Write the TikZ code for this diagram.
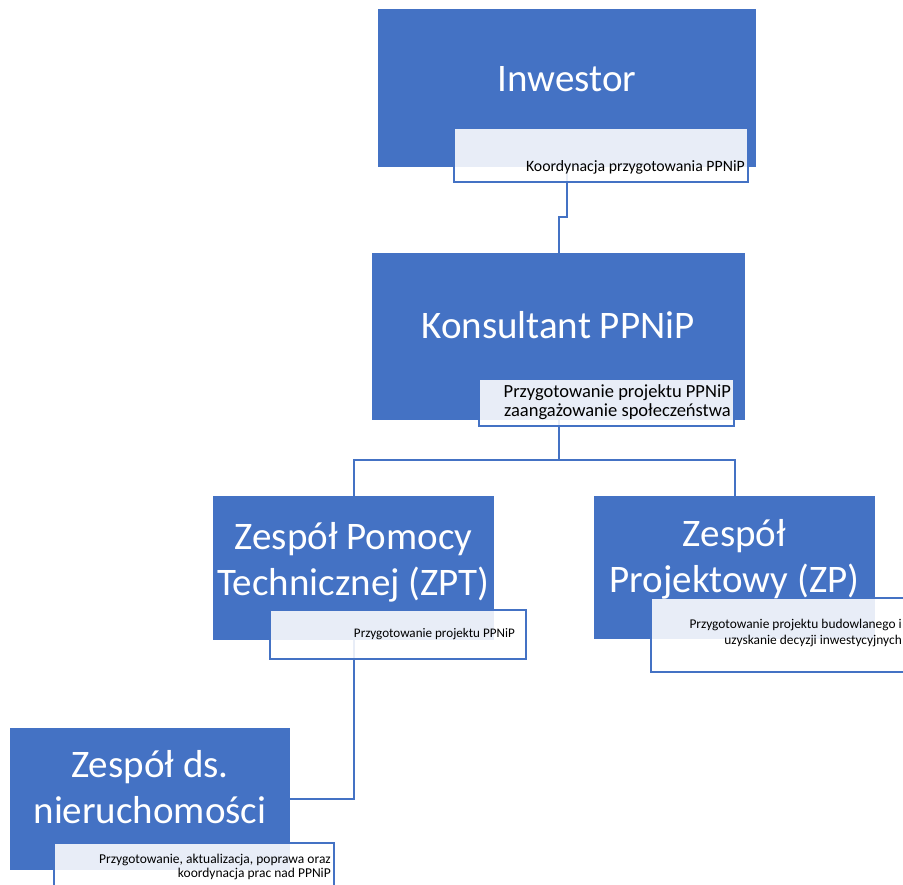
\documentclass[tikz,border=0pt]{standalone}
\usepackage{fontspec}
\setmainfont{Carlito}
\definecolor{accent}{HTML}{4472C4}
\begin{document}
\begin{tikzpicture}[x=1pt,y=-1pt,
  bluebox/.style={fill=accent, draw=none, inner sep=0pt, anchor=north west},
  descbox/.style={fill=white, fill opacity=0.88, draw=accent, line width=2pt, inner sep=0pt, anchor=north west},
  title/.style={text=white, font=\fontsize{39}{46}\selectfont, align=center, anchor=base, inner sep=0pt},
  desc/.style={text=black, align=right, anchor=base east, inner sep=0pt},
  conn/.style={draw=accent, line width=2.2pt}]
\useasboundingbox (0,0) rectangle (903,885);
\clip (0,0) rectangle (903,885);
\fill[white] (0,0) rectangle (903,885);
% blue boxes
\node[bluebox, minimum width=378pt, minimum height=158pt] (inw) at (378,9) {};
\node[bluebox, minimum width=373pt, minimum height=167pt] (kons) at (372,253) {};
\node[bluebox, minimum width=281pt, minimum height=144pt] (zpt) at (213,496) {};
\node[bluebox, minimum width=281pt, minimum height=143pt] (zp) at (594,496) {};
\node[bluebox, minimum width=280pt, minimum height=142pt] (nier) at (10,728) {};
% connectors
\coordinate (bend1) at (563,217);
\coordinate (bus) at (558,460);
\draw[conn] (inw.south) |- (bend1) -| (kons.north);
\draw[conn] (kons.south) -- (kons.south |- bus);
\draw[conn] (zpt.north) |- (bus) -| (zp.north);
\draw[conn] (zpt.south) |- (nier.east);
% description boxes
\node[descbox, minimum width=294pt, minimum height=54pt] (inwd) at (453,127) {};
\node[descbox, minimum width=255pt, minimum height=47pt] (konsd) at (478,378) {};
\node[descbox, minimum width=256pt, minimum height=49pt] (zptd) at (269,609) {};
\node[descbox, minimum width=262pt, minimum height=74pt] (zpd) at (650,597) {};
\node[descbox, minimum width=280pt, minimum height=60pt] (nierd) at (53,842) {};
% titles (anchor = baseline of last line)
\node[title] (inwt) at (567,92) {Inwestor};
\node[title] (konst) at (558,339) {Konsultant PPNiP};
\node[title] (zptt) at (353.5,595) {Zespół Pomocy\\Technicznej (ZPT)};
\node[title] (zpt2) at (734.5,592) {Zespół\\Projektowy (ZP)};
\node[title] (niert) at (150,823) {Zespół ds.\\nieruchomości};
% descriptions (anchor = baseline of last line)
\node[desc, font=\fontsize{15.8}{18}\selectfont] (inwx) at (745,172) {Koordynacja przygotowania PPNiP};
\node[desc, font=\fontsize{18.5}{19}\selectfont] (konsx) at (731,417) {Przygotowanie projektu PPNiP\\zaangażowanie społeczeństwa};
\node[desc, font=\fontsize{13.1}{16}\selectfont] (zptx) at (515,637) {Przygotowanie projektu PPNiP};
\node[desc, font=\fontsize{13.4}{16}\selectfont] (zpx) at (902,644) {Przygotowanie projektu budowlanego i\\uzyskanie decyzji inwestycyjnych};
\node[desc, font=\fontsize{13.5}{14}\selectfont] (nierx) at (331,877) {Przygotowanie, aktualizacja, poprawa oraz\\koordynacja prac nad PPNiP};
\end{tikzpicture}
\end{document}
